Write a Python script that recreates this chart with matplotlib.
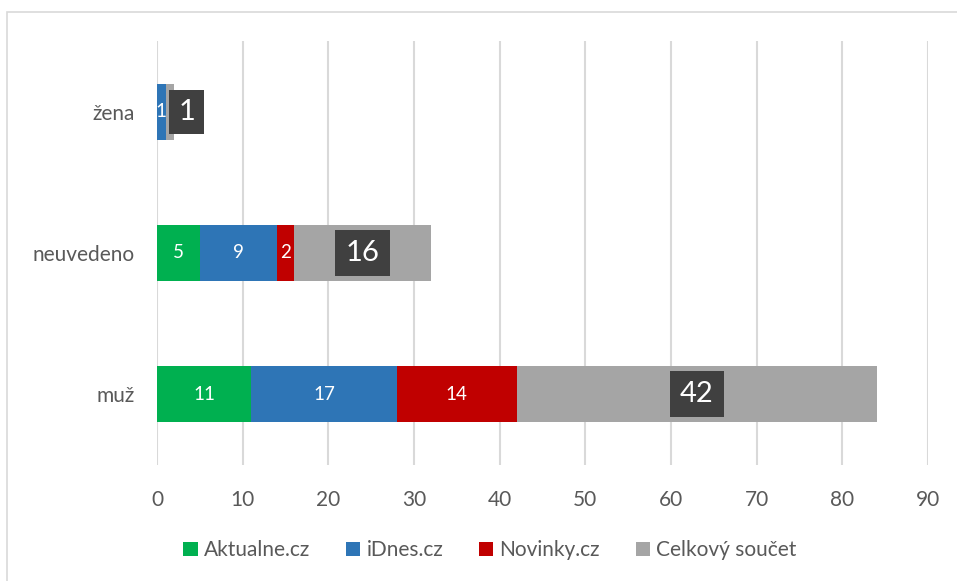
import numpy as np
import matplotlib
matplotlib.use('Agg')
import matplotlib.pyplot as plt
from matplotlib.patches import Rectangle

# data
categories = ['muž', 'neuvedeno', 'žena']
aktualne = [11, 5, 0]
idnes = [17, 9, 1]
novinky = [14, 2, 0]
celkem = [42, 16, 1]
series_names = ['Aktualne.cz', 'iDnes.cz', 'Novinky.cz', 'Celkový součet']
colors = ['#00B050', '#2E75B6', '#C00000', '#A5A5A5']
xticks = [0, 10, 20, 30, 40, 50, 60, 70, 80, 90]

plt.rcParams['font.family'] = ['Lato', 'DejaVu Sans']

fig = plt.figure(figsize=(9.57, 5.81), dpi=100)
ax = fig.add_axes([0.164, 0.2005, 0.8057, 0.7281])

# outer chart border (only top and left are visible in the crop)
fig.patches.append(Rectangle((7 / 957, -0.1), 1.2, 1.1 - 12 / 581,
                             transform=fig.transFigure, fill=False,
                             edgecolor='#D9D9D9', linewidth=1.2))

y = np.arange(len(categories))
left = np.zeros(len(categories))
all_series = [aktualne, idnes, novinky, celkem]
for vals, name, col in zip(all_series, series_names, colors):
    vals = np.array(vals, dtype=float)
    ax.barh(y, vals, left=left, height=0.4, color=col, label=name, zorder=3)
    for i, v in enumerate(vals):
        if v == 0:
            continue
        cx = left[i] + v / 2
        if name == 'Celkový součet':
            if v < 3:
                # small segment: box sits to the right of the segment centre
                ax.annotate('%d' % v, (cx, y[i]), xytext=(6, 0), textcoords='offset points',
                            ha='left', va='center', color='white', fontsize=21, zorder=5,
                            bbox=dict(boxstyle='square,pad=0.3', fc='#404040', ec='none'))
            else:
                ax.text(cx, y[i], '%d' % v, ha='center', va='center', color='white',
                        fontsize=21, zorder=5,
                        bbox=dict(boxstyle='square,pad=0.35', fc='#404040', ec='none'))
        else:
            ax.text(cx, y[i], '%d' % v, ha='center', va='center', color='white',
                    fontsize=13.5, zorder=4)
    left += vals

ax.set_xlim(0, 90)
ax.set_ylim(-0.5, 2.5)
ax.set_xticks(xticks)
ax.set_yticks(y)
ax.set_yticklabels(categories)
ax.grid(axis='x', color='#D9D9D9', linewidth=1.5, zorder=0)
for s in ax.spines.values():
    s.set_visible(False)
ax.tick_params(axis='x', length=0, pad=18, labelsize=15, labelcolor='#595959')
ax.tick_params(axis='y', length=0, pad=16, labelsize=15, labelcolor='#595959')

leg = fig.legend(loc='center', bbox_to_anchor=(0.512, 0.053), ncol=4, frameon=False,
                 fontsize=15, handlelength=0.7, handleheight=0.7,
                 handletextpad=0.3, columnspacing=1.7)
for t in leg.get_texts():
    t.set_color('#595959')

fig.savefig('out.png', dpi=100)
